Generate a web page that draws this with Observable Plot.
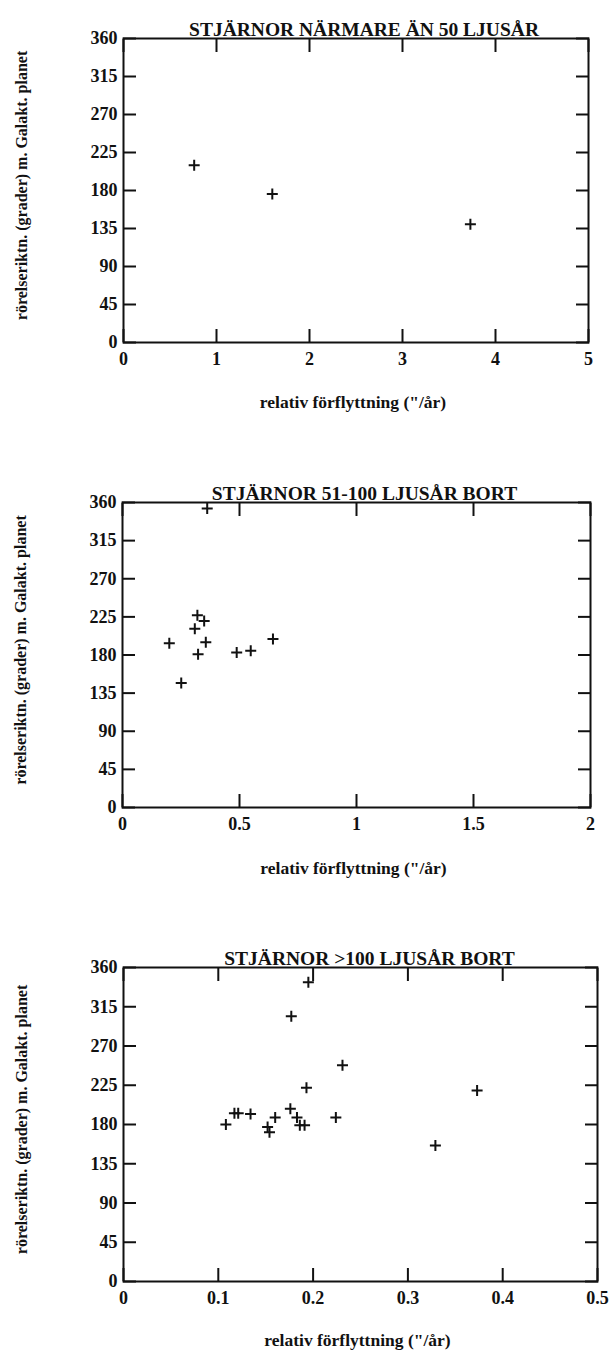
<!DOCTYPE html>
<html>
<head>
<meta charset="utf-8">
<script src="https://cdn.jsdelivr.net/npm/d3@7"></script>
<script src="https://cdn.jsdelivr.net/npm/@observablehq/plot@0.6"></script>
<style>
  html, body { margin: 0; padding: 0; background: #fff; }
  #chart svg { display: block; }
</style>
</head>
<body>
<div id="chart"></div>
<script>
// ---- data ----
const titles = ["STJÄRNOR NÄRMARE ÄN 50 LJUSÅR", "STJÄRNOR 51-100 LJUSÅR BORT", "STJÄRNOR >100 LJUSÅR BORT"];
const xTitle = "relativ förflyttning (\"/år)";
const yTitle = "rörelseriktn. (grader) m. Galakt. planet";
const yTicks = [0, 45, 90, 135, 180, 225, 270, 315, 360];

const near_x = [0.76, 1.60, 3.73];
const near_y = [210, 176, 140];
const near_xTicks = [0, 1, 2, 3, 4, 5];

const mid_x = [0.362, 0.200, 0.251, 0.320, 0.349, 0.309, 0.356, 0.323, 0.488, 0.548, 0.643];
const mid_y = [353, 194, 147, 227, 220, 211, 195, 181, 183, 185, 199];
const mid_xTicks = [0, 0.5, 1, 1.5, 2];

const far_x = [0.108, 0.117, 0.121, 0.134, 0.152, 0.154, 0.160, 0.176, 0.183, 0.186, 0.191, 0.177, 0.195, 0.193, 0.231, 0.224, 0.329, 0.373];
const far_y = [180, 193, 193, 192, 177, 171, 188, 198, 188, 179, 179, 304, 343, 222, 248, 188, 156, 219];
const far_xTicks = [0, 0.1, 0.2, 0.3, 0.4, 0.5];

// ---- drawing ----
const plusSymbol = {
  draw(context, size) {
    const r = Math.sqrt(size / Math.PI);
    context.moveTo(-r, 0); context.lineTo(r, 0);
    context.moveTo(0, -r); context.lineTo(0, r);
  }
};

const font = "'Liberation Serif', 'DejaVu Serif', serif";

function panel({title, xs, ys, xTicks, layout}) {
  const data = xs.map((x, i) => ({x, y: ys[i]}));
  const xMax = xTicks[xTicks.length - 1];
  return Plot.plot({
    width: 616,
    height: layout.height,
    marginTop: layout.top,
    marginBottom: layout.bottom,
    marginLeft: layout.left,
    marginRight: layout.right,
    style: {fontFamily: font, fontSize: "16px", color: "#111", background: "#fff", overflow: "visible"},
    x: {domain: [0, xMax]},
    y: {domain: [0, 360]},
    marks: [
      // inward ticks on all sides
      Plot.axisX(xTicks, {anchor: "bottom", tickSize: -13, strokeWidth: 2, tickFormat: () => "", label: null}),
      Plot.axisX(xTicks, {anchor: "top", tickSize: -13, strokeWidth: 2, tickFormat: () => "", label: null}),
      Plot.axisY(yTicks, {anchor: "left", tickSize: -13, strokeWidth: 2, tickFormat: () => "", label: null}),
      Plot.axisY(yTicks, {anchor: "right", tickSize: -13, strokeWidth: 2, tickFormat: () => "", label: null}),
      // tick labels
      Plot.axisX(xTicks, {anchor: "bottom", tickSize: 0, tickPadding: 10, tickFormat: d => String(d), fontWeight: "bold", fontSize: 18, label: null}),
      Plot.axisY(yTicks, {anchor: "left", tickSize: 0, tickPadding: 6, tickFormat: d => String(d), fontWeight: "bold", fontSize: 18, label: null}),
      Plot.frame({stroke: "#111", strokeWidth: 2}),
      Plot.dot(data, {x: "x", y: "y", symbol: plusSymbol, r: 5.5, stroke: "#111", strokeWidth: 2, fill: "none"}),
      // titles
      Plot.text([title], {frameAnchor: "top", dy: -16, dx: layout.titleDx, text: d => d, fontSize: 19.5, fontWeight: "bold", fill: "#111"}),
      Plot.text([xTitle], {frameAnchor: "bottom", dy: layout.xTitleDy, dx: -3, text: d => d, fontSize: 17.5, fontWeight: "bold", fill: "#111"}),
      Plot.text([yTitle], {frameAnchor: "left", dx: -102, dy: -5, rotate: -90, textAnchor: "middle", text: d => d, fontSize: 16, fontWeight: "bold", fill: "#111"})
    ]
  });
}

const chart = document.getElementById("chart");
chart.append(panel({title: titles[0], xs: near_x, ys: near_y, xTicks: near_xTicks,
  layout: {height: 440, top: 38, bottom: 98, left: 123, right: 28, titleDx: 8, xTitleDy: 65}}));
chart.append(panel({title: titles[1], xs: mid_x, ys: mid_y, xTicks: mid_xTicks,
  layout: {height: 470, top: 62, bottom: 103, left: 122, right: 26, titleDx: 8, xTitleDy: 66}}));
chart.append(panel({title: titles[2], xs: far_x, ys: far_y, xTicks: far_xTicks,
  layout: {height: 448, top: 57, bottom: 77, left: 123, right: 19, titleDx: 9, xTitleDy: 64}}));
</script>
</body>
</html>
